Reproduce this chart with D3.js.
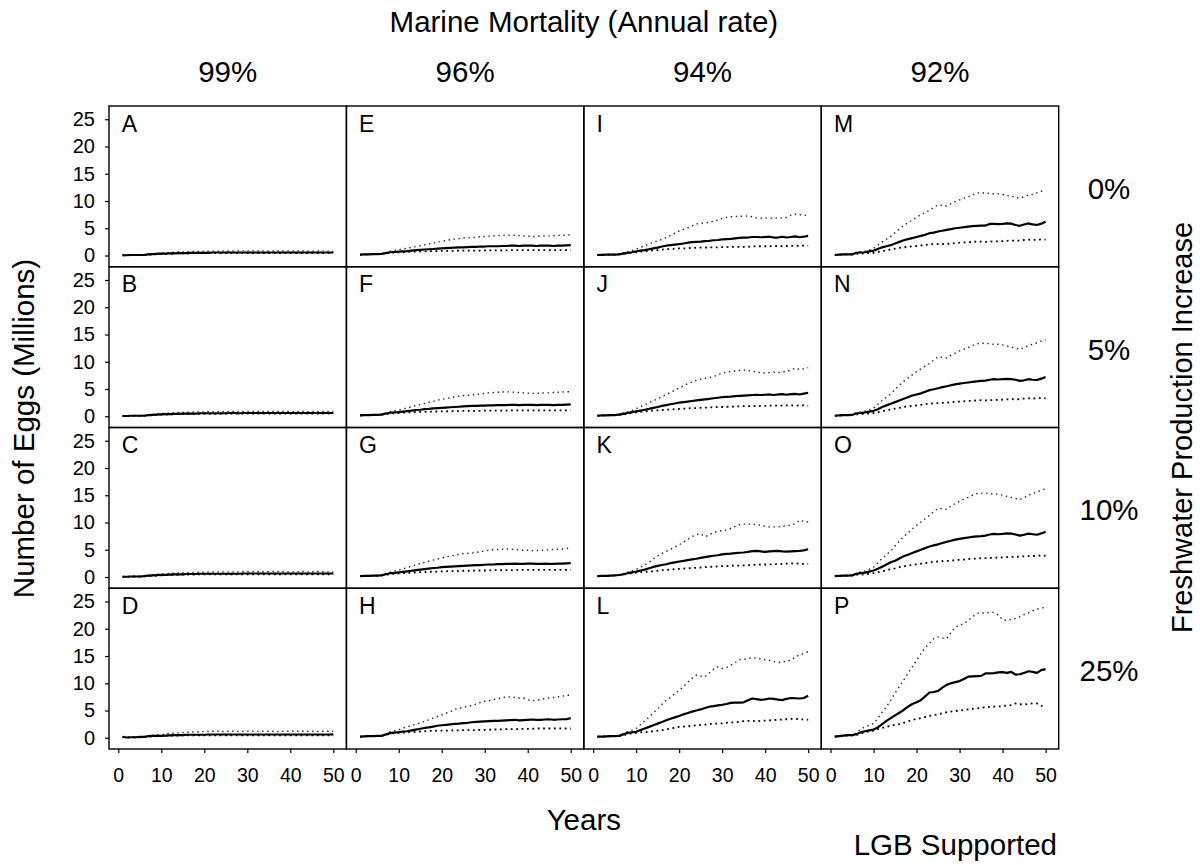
<!DOCTYPE html>
<html>
<head>
<meta charset="utf-8">
<script src="https://cdn.jsdelivr.net/npm/d3@7"></script>
<style>
  html, body { margin: 0; padding: 0; background: #fff; }
  svg { display: block; font-family: "Liberation Sans", Arial, Helvetica, sans-serif; }
</style>
</head>
<body>
<svg id="chart" width="1200" height="865"></svg>
<script>
// ---- Categories and tick labels ----
const years = [1,2,3,4,5,6,7,8,9,10,11,12,13,14,15,16,17,18,19,20,21,22,23,24,25,
               26,27,28,29,30,31,32,33,34,35,36,37,38,39,40,41,42,43,44,45,46,47,48,49,50];
const marineRates = ["99%", "96%", "94%", "92%"];          // columns
const freshIncreases = ["0%", "5%", "10%", "25%"];          // rows
const yTickValues = [0, 5, 10, 15, 20, 25];
const xTickValues = [0, 10, 20, 30, 40, 50];

// ---- Egg production (millions): median, upper and lower bounds per panel ----
// Marine mortality 99%
const medA = [0.05,0.05,0.1,0.1,0.1,0.1,0.2,0.25,0.3,0.35, 0.35,0.4,0.4,0.45,0.45,0.45,0.5,0.5,0.5,0.5,
              0.5,0.55,0.55,0.55,0.55,0.55,0.55,0.55,0.55,0.55, 0.55,0.55,0.55,0.55,0.55,0.55,0.55,0.55,0.55,0.55,
              0.55,0.55,0.55,0.55,0.55,0.55,0.55,0.55,0.55,0.55];
const hiA  = [0.05,0.05,0.1,0.1,0.1,0.15,0.25,0.3,0.4,0.45, 0.5,0.55,0.6,0.65,0.65,0.7,0.7,0.75,0.75,0.75,
              0.8,0.8,0.8,0.8,0.8,0.85,0.85,0.85,0.85,0.85, 0.85,0.85,0.85,0.85,0.85,0.85,0.85,0.85,0.85,0.85,
              0.8,0.85,0.85,0.8,0.8,0.85,0.8,0.8,0.8,0.8];
const loA  = [0.05,0.05,0.1,0.1,0.1,0.1,0.15,0.2,0.25,0.3, 0.3,0.35,0.35,0.4,0.4,0.4,0.4,0.45,0.45,0.45,
              0.45,0.45,0.45,0.45,0.45,0.45,0.45,0.45,0.45,0.45, 0.45,0.45,0.45,0.45,0.45,0.45,0.45,0.45,0.45,0.45,
              0.45,0.45,0.45,0.45,0.45,0.45,0.45,0.45,0.45,0.45];

const medB = [0.05,0.05,0.1,0.1,0.1,0.1,0.2,0.25,0.3,0.35, 0.4,0.4,0.45,0.45,0.5,0.5,0.5,0.5,0.55,0.55,
              0.55,0.55,0.55,0.55,0.55,0.6,0.6,0.55,0.6,0.6, 0.6,0.6,0.6,0.6,0.6,0.6,0.6,0.6,0.6,0.6,
              0.6,0.6,0.6,0.6,0.6,0.6,0.6,0.6,0.6,0.6];
const hiB  = [0.05,0.05,0.1,0.1,0.1,0.15,0.25,0.35,0.45,0.5, 0.55,0.6,0.65,0.7,0.7,0.75,0.75,0.8,0.8,0.8,
              0.85,0.85,0.85,0.85,0.9,0.9,0.9,0.9,0.9,0.9, 0.9,0.9,0.9,0.9,0.9,0.9,0.9,0.9,0.9,0.9,
              0.85,0.9,0.9,0.85,0.9,0.9,0.9,0.9,0.9,0.9];
const loB  = [0.05,0.05,0.1,0.1,0.1,0.1,0.15,0.2,0.25,0.3, 0.3,0.35,0.35,0.4,0.4,0.4,0.45,0.45,0.45,0.45,
              0.45,0.45,0.45,0.45,0.5,0.5,0.5,0.5,0.5,0.5, 0.5,0.5,0.5,0.5,0.5,0.5,0.5,0.5,0.5,0.5,
              0.5,0.5,0.5,0.5,0.5,0.5,0.5,0.5,0.5,0.5];

const medC = [0.05,0.05,0.1,0.1,0.1,0.15,0.25,0.3,0.35,0.4, 0.4,0.45,0.5,0.5,0.5,0.55,0.55,0.55,0.6,0.6,
              0.6,0.6,0.6,0.6,0.6,0.6,0.6,0.6,0.65,0.65, 0.65,0.65,0.65,0.65,0.65,0.65,0.65,0.65,0.65,0.65,
              0.65,0.65,0.65,0.65,0.65,0.65,0.65,0.65,0.65,0.65];
const hiC  = [0.05,0.05,0.1,0.1,0.1,0.2,0.3,0.4,0.5,0.55, 0.6,0.65,0.7,0.75,0.8,0.8,0.85,0.85,0.9,0.9,
              0.9,0.95,0.95,0.95,0.95,0.95,0.95,0.95,1.0,1.0, 1.0,1.0,1.0,0.95,1.0,1.0,1.0,1.0,1.0,0.95,
              0.95,1.0,1.0,0.95,0.95,1.0,1.0,0.95,0.95,0.95];
const loC  = [0.05,0.05,0.1,0.1,0.1,0.1,0.15,0.2,0.25,0.3, 0.35,0.35,0.4,0.4,0.45,0.45,0.45,0.45,0.5,0.5,
              0.5,0.5,0.5,0.5,0.5,0.5,0.5,0.5,0.5,0.5, 0.5,0.5,0.5,0.5,0.5,0.5,0.5,0.5,0.5,0.5,
              0.5,0.5,0.5,0.5,0.5,0.5,0.5,0.5,0.5,0.5];

const medD = [0.15,0.05,0.1,0.1,0.15,0.15,0.3,0.35,0.35,0.35, 0.4,0.45,0.5,0.5,0.5,0.55,0.55,0.55,0.55,0.55,
              0.6,0.6,0.6,0.6,0.6,0.6,0.6,0.6,0.6,0.6, 0.6,0.6,0.6,0.6,0.6,0.6,0.6,0.6,0.6,0.6,
              0.6,0.6,0.6,0.6,0.6,0.6,0.6,0.6,0.6,0.62];
const hiD  = [0.15,0.05,0.1,0.1,0.15,0.2,0.35,0.45,0.55,0.6, 0.7,0.8,0.85,0.9,0.95,1.0,1.05,1.1,1.1,1.15,
              1.15,1.2,1.2,1.15,1.15,1.2,1.2,1.15,1.2,1.2, 1.2,1.15,1.2,1.2,1.2,1.2,1.15,1.2,1.2,1.2,
              1.2,1.2,1.2,1.2,1.2,1.15,1.2,1.2,1.2,1.2];
const loD  = [0.15,0.05,0.1,0.1,0.1,0.1,0.2,0.25,0.3,0.3, 0.35,0.4,0.4,0.4,0.45,0.45,0.45,0.45,0.45,0.45,
              0.45,0.45,0.45,0.45,0.45,0.45,0.45,0.45,0.45,0.45, 0.45,0.45,0.45,0.45,0.45,0.45,0.45,0.45,0.45,0.45,
              0.45,0.45,0.45,0.45,0.45,0.45,0.45,0.45,0.45,0.45];

// Marine mortality 96%
const medE = [0.15,0.2,0.2,0.25,0.25,0.3,0.45,0.6,0.65,0.7, 0.75,0.8,0.9,1.0,1.05,1.1,1.15,1.2,1.25,1.3,
              1.35,1.4,1.45,1.5,1.5,1.55,1.6,1.6,1.65,1.65, 1.7,1.7,1.7,1.75,1.75,1.8,1.8,1.75,1.8,1.8,
              1.8,1.75,1.8,1.8,1.8,1.75,1.8,1.8,1.85,1.9];
const hiE  = [0.15,0.2,0.2,0.25,0.3,0.35,0.55,0.8,0.95,1.05, 1.2,1.35,1.5,1.65,1.8,1.95,2.1,2.3,2.45,2.6,
              2.75,2.9,3.0,3.1,3.2,3.25,3.3,3.35,3.45,3.5, 3.55,3.6,3.65,3.7,3.7,3.75,3.7,3.65,3.6,3.55,
              3.5,3.5,3.55,3.6,3.6,3.65,3.7,3.7,3.75,3.8];
const loE  = [0.15,0.2,0.2,0.25,0.25,0.3,0.4,0.5,0.55,0.6, 0.6,0.65,0.7,0.7,0.75,0.75,0.8,0.8,0.8,0.85,
              0.85,0.85,0.85,0.9,0.9,0.9,0.9,0.9,0.9,0.95, 0.95,0.95,0.95,0.95,0.95,1.0,1.0,1.0,1.0,1.0,
              1.0,1.0,1.0,1.0,1.0,1.0,1.0,1.0,1.0,1.0];

const medF = [0.15,0.2,0.2,0.25,0.25,0.3,0.5,0.65,0.7,0.75, 0.85,0.95,1.05,1.15,1.2,1.3,1.35,1.45,1.5,1.55,
              1.6,1.65,1.7,1.75,1.8,1.85,1.9,1.9,1.95,1.95, 2.0,2.0,2.05,2.05,2.05,2.1,2.1,2.05,2.1,2.1,
              2.1,2.05,2.1,2.1,2.1,2.05,2.1,2.1,2.15,2.2];
const hiF  = [0.15,0.2,0.2,0.25,0.3,0.4,0.6,0.85,1.0,1.15, 1.35,1.55,1.75,1.95,2.15,2.35,2.55,2.75,2.95,3.1,
              3.25,3.4,3.55,3.7,3.8,3.85,3.9,4.0,4.1,4.2, 4.3,4.35,4.4,4.45,4.5,4.45,4.4,4.35,4.3,4.25,
              4.2,4.2,4.25,4.3,4.3,4.35,4.4,4.45,4.5,4.5];
const loF  = [0.15,0.2,0.2,0.25,0.25,0.3,0.4,0.5,0.55,0.6, 0.65,0.7,0.75,0.75,0.8,0.8,0.85,0.85,0.9,0.9,
              0.9,0.95,0.95,0.95,1.0,1.0,1.0,1.0,1.0,1.05, 1.05,1.05,1.05,1.05,1.05,1.1,1.1,1.1,1.1,1.1,
              1.1,1.1,1.1,1.1,1.1,1.1,1.1,1.1,1.1,1.1];

const medG = [0.15,0.2,0.2,0.25,0.25,0.3,0.5,0.7,0.75,0.85, 0.95,1.05,1.15,1.25,1.35,1.45,1.55,1.65,1.7,1.8,
              1.85,1.9,1.95,2.0,2.05,2.1,2.15,2.2,2.2,2.25, 2.3,2.3,2.35,2.35,2.4,2.4,2.45,2.4,2.4,2.45,
              2.45,2.4,2.4,2.45,2.4,2.4,2.45,2.45,2.5,2.55];
const hiG  = [0.15,0.2,0.2,0.25,0.3,0.4,0.65,0.9,1.1,1.3, 1.5,1.75,2.0,2.25,2.45,2.7,2.9,3.1,3.3,3.5,
              3.7,3.85,4.0,4.15,4.3,4.35,4.4,4.5,4.65,4.8, 4.9,5.0,5.05,5.1,5.15,5.1,5.05,4.95,4.9,4.9,
              4.85,4.85,4.9,4.95,5.0,5.05,5.1,5.15,5.25,5.3];
const loG  = [0.15,0.2,0.2,0.25,0.25,0.3,0.4,0.55,0.6,0.65, 0.7,0.75,0.8,0.85,0.9,0.9,0.95,1.0,1.0,1.05,
              1.05,1.1,1.1,1.1,1.15,1.15,1.15,1.2,1.2,1.2, 1.2,1.25,1.25,1.25,1.25,1.25,1.3,1.3,1.3,1.3,
              1.3,1.3,1.3,1.3,1.3,1.3,1.3,1.3,1.3,1.3];

const medH = [0.2,0.25,0.3,0.3,0.35,0.35,0.6,0.85,0.95,1.05, 1.15,1.2,1.35,1.5,1.65,1.8,1.9,2.05,2.2,2.3,
              2.35,2.45,2.55,2.6,2.7,2.75,2.85,2.9,2.95,3.0, 3.05,3.1,3.1,3.15,3.2,3.25,3.3,3.2,3.25,3.3,
              3.35,3.3,3.3,3.35,3.4,3.3,3.35,3.4,3.4,3.6];
const hiH  = [0.2,0.25,0.3,0.3,0.35,0.4,0.7,1.1,1.3,1.5, 1.8,2.0,2.2,2.5,2.7,3.0,3.3,3.6,3.9,4.2,
              4.5,4.8,5.2,5.4,5.6,5.8,5.9,6.2,6.5,6.7, 6.8,7.0,7.2,7.3,7.5,7.5,7.4,7.3,7.3,7.0,
              6.8,6.9,7.0,7.2,7.3,7.4,7.5,7.6,7.8,7.8];
const loH  = [0.2,0.25,0.3,0.3,0.35,0.35,0.55,0.75,0.85,0.9, 0.95,1.0,1.05,1.1,1.15,1.2,1.25,1.25,1.3,1.3,
              1.3,1.35,1.35,1.35,1.4,1.4,1.4,1.4,1.45,1.45, 1.5,1.5,1.55,1.55,1.6,1.6,1.6,1.6,1.65,1.65,
              1.65,1.7,1.7,1.7,1.7,1.7,1.75,1.7,1.7,1.7];

// Marine mortality 94%
const medI = [0.1,0.12,0.15,0.15,0.15,0.2,0.35,0.5,0.6,0.75, 0.9,1.0,1.15,1.3,1.45,1.65,1.8,1.9,2.0,2.1,
              2.2,2.35,2.45,2.5,2.55,2.65,2.7,2.8,2.85,2.95, 3.0,3.05,3.15,3.25,3.3,3.3,3.4,3.4,3.35,3.4,
              3.45,3.3,3.3,3.45,3.3,3.4,3.5,3.35,3.45,3.6];
const hiI  = [0.1,0.12,0.15,0.15,0.2,0.35,0.5,0.7,0.9,1.2, 1.5,1.8,2.1,2.4,2.7,2.95,3.3,3.7,4.1,4.5,
              4.8,5.1,5.4,5.8,5.9,6.0,6.1,6.3,6.5,6.8, 7.0,7.1,7.15,7.2,7.2,7.25,7.1,6.9,6.85,6.9,
              6.8,6.85,6.9,6.9,7.0,7.4,7.6,7.5,7.35,7.4];
const loI  = [0.1,0.12,0.15,0.15,0.15,0.2,0.3,0.45,0.5,0.6, 0.7,0.8,0.9,0.95,1.0,1.1,1.15,1.2,1.25,1.3,
              1.3,1.35,1.4,1.4,1.45,1.45,1.5,1.5,1.5,1.55, 1.55,1.6,1.6,1.6,1.6,1.65,1.65,1.7,1.7,1.7,
              1.7,1.75,1.75,1.7,1.75,1.8,1.75,1.8,1.8,1.8];

const medJ = [0.1,0.15,0.15,0.2,0.2,0.3,0.45,0.6,0.75,0.9, 1.05,1.2,1.35,1.55,1.7,1.9,2.05,2.2,2.35,2.5,
              2.6,2.7,2.8,2.9,3.0,3.1,3.2,3.3,3.4,3.5, 3.55,3.6,3.7,3.75,3.8,3.85,3.9,3.95,3.9,3.95,
              4.0,3.9,4.0,4.05,3.95,4.05,4.1,4.0,4.15,4.3];
const hiJ  = [0.1,0.15,0.15,0.2,0.25,0.4,0.6,0.8,1.05,1.4, 1.75,2.1,2.5,2.85,3.2,3.6,4.0,4.4,4.8,5.2,
              5.6,6.0,6.3,6.6,6.8,7.0,7.1,7.3,7.6,7.9, 8.1,8.2,8.3,8.4,8.5,8.4,8.3,8.1,8.0,7.9,
              8.0,8.1,8.0,8.1,8.2,8.5,8.8,8.6,8.7,8.9];
const loJ  = [0.1,0.15,0.15,0.2,0.2,0.25,0.35,0.5,0.6,0.7, 0.8,0.9,1.0,1.05,1.1,1.15,1.2,1.25,1.3,1.35,
              1.4,1.45,1.5,1.5,1.55,1.6,1.6,1.65,1.7,1.7, 1.75,1.75,1.8,1.8,1.85,1.85,1.85,1.9,1.9,1.9,
              1.95,1.95,1.95,1.95,2.0,2.0,1.95,2.0,2.0,1.95];

const medK = [0.15,0.2,0.2,0.25,0.3,0.37,0.5,0.7,0.85,1.0, 1.2,1.35,1.6,1.85,2.05,2.2,2.35,2.55,2.7,2.85,
              2.95,3.1,3.25,3.35,3.5,3.65,3.8,3.9,4.0,4.15, 4.25,4.3,4.4,4.45,4.5,4.6,4.75,4.8,4.7,4.6,
              4.7,4.75,4.8,4.7,4.65,4.7,4.75,4.8,4.9,5.1];
const hiK  = [0.15,0.2,0.2,0.25,0.3,0.4,0.6,0.9,1.1,1.4, 1.8,2.2,2.7,3.3,3.9,4.3,4.7,5.1,5.5,5.9,
              6.4,6.9,7.4,7.8,7.9,7.4,7.7,8.2,8.4,8.5, 8.6,8.9,9.3,9.6,9.7,9.7,9.7,9.6,9.5,9.3,
              9.2,9.2,9.2,9.3,9.4,9.5,9.8,10.4,10.2,10.1];
const loK  = [0.15,0.2,0.2,0.25,0.3,0.35,0.45,0.6,0.7,0.8, 0.9,0.95,1.0,1.05,1.15,1.25,1.3,1.35,1.45,1.5,
              1.55,1.6,1.65,1.7,1.75,1.8,1.85,1.9,1.95,2.0, 2.0,2.05,2.1,2.1,2.15,2.2,2.2,2.25,2.3,2.3,
              2.3,2.35,2.35,2.4,2.45,2.5,2.5,2.45,2.4,2.4];

const medL = [0.2,0.2,0.25,0.3,0.3,0.35,0.6,0.9,1.0,1.1, 1.4,1.7,2.0,2.3,2.6,2.9,3.2,3.5,3.75,4.0,
              4.3,4.55,4.8,5.0,5.2,5.45,5.7,5.8,5.95,6.05, 6.2,6.4,6.45,6.45,6.5,6.9,7.2,7.1,6.95,7.05,
              7.2,7.15,7.0,6.9,7.15,7.3,7.25,7.2,7.3,7.7];
const hiL  = [0.2,0.2,0.25,0.3,0.3,0.4,0.8,1.1,1.4,1.7, 2.4,3.1,3.8,4.6,5.3,6.1,6.9,7.4,8.1,8.7,
              9.4,10.2,10.9,11.5,11.3,11.2,11.9,12.6,13.0,12.7, 12.9,13.3,13.8,14.3,14.4,14.5,14.7,14.6,14.5,14.3,
              14.2,14.0,13.8,13.9,14.0,14.3,14.8,15.2,15.5,15.8];
const loL  = [0.2,0.2,0.25,0.3,0.3,0.35,0.5,0.65,0.8,0.9, 1.0,1.05,1.1,1.2,1.3,1.4,1.55,1.7,1.85,2.0,
              2.05,2.1,2.2,2.3,2.35,2.4,2.5,2.6,2.6,2.65, 2.75,2.8,2.85,2.95,3.05,3.1,3.1,3.05,3.1,3.15,
              3.2,3.25,3.3,3.35,3.4,3.45,3.5,3.4,3.35,3.3];

// Marine mortality 92%
const medM = [0.1,0.15,0.2,0.2,0.2,0.5,0.55,0.6,0.75,0.9, 1.2,1.5,1.7,1.9,2.2,2.5,2.8,3.0,3.2,3.4,
              3.6,3.8,4.1,4.2,4.4,4.55,4.7,4.85,5.0,5.1, 5.2,5.3,5.4,5.45,5.5,5.5,5.8,5.8,5.75,5.8,
              5.9,5.85,5.6,5.45,5.7,5.9,5.7,5.6,5.85,6.2];
const hiM  = [0.1,0.15,0.2,0.2,0.25,0.55,0.7,0.8,1.0,1.3, 1.9,2.5,3.0,3.5,4.2,4.9,5.5,6.0,6.5,7.0,
              7.5,7.9,8.3,8.8,9.3,9.2,9.1,9.5,9.9,10.2, 10.5,10.8,11.1,11.5,11.5,11.45,11.4,11.3,11.3,11.2,
              11.0,10.9,10.7,10.5,10.8,11.1,11.2,11.5,11.8,12.0];
const loM  = [0.1,0.15,0.2,0.2,0.2,0.3,0.35,0.4,0.45,0.5, 0.65,0.8,0.95,1.1,1.25,1.4,1.5,1.6,1.7,1.75,
              1.85,1.95,2.05,2.1,2.1,2.1,2.15,2.2,2.3,2.35, 2.4,2.45,2.5,2.55,2.55,2.5,2.55,2.6,2.6,2.65,
              2.7,2.75,2.7,2.75,2.85,2.9,2.85,2.9,2.95,2.9];

const medN = [0.1,0.15,0.2,0.2,0.25,0.55,0.6,0.7,0.85,1.0, 1.3,1.7,2.0,2.3,2.6,2.9,3.2,3.5,3.8,4.0,
              4.2,4.5,4.8,4.95,5.15,5.35,5.5,5.7,5.85,6.0, 6.1,6.2,6.3,6.4,6.5,6.55,6.7,6.8,6.75,6.8,
              6.85,6.8,6.7,6.5,6.6,6.8,6.7,6.65,6.9,7.2];
const hiN  = [0.1,0.15,0.2,0.2,0.3,0.6,0.8,0.95,1.2,1.5, 2.2,2.9,3.5,4.1,4.9,5.7,6.4,7.0,7.6,8.2,
              8.7,9.2,9.7,10.3,10.9,10.8,10.7,11.2,11.6,12.0, 12.3,12.6,13.0,13.3,13.4,13.4,13.3,13.2,13.2,13.1,
              12.9,12.7,12.5,12.3,12.6,13.0,13.2,13.5,13.8,14.0];
const loN  = [0.1,0.15,0.2,0.2,0.25,0.35,0.4,0.45,0.5,0.6, 0.75,0.9,1.1,1.25,1.4,1.55,1.7,1.8,1.9,2.0,
              2.1,2.2,2.3,2.4,2.4,2.45,2.5,2.55,2.65,2.7, 2.75,2.8,2.85,2.9,2.95,2.9,2.95,3.0,3.0,3.05,
              3.1,3.15,3.1,3.15,3.25,3.3,3.25,3.3,3.35,3.3];

const medO = [0.15,0.2,0.25,0.25,0.3,0.6,0.7,0.8,1.0,1.2, 1.5,1.9,2.3,2.7,3.0,3.4,3.8,4.1,4.4,4.7,
              5.0,5.3,5.6,5.8,6.0,6.25,6.45,6.65,6.85,7.0, 7.15,7.25,7.35,7.45,7.5,7.6,7.8,7.9,7.85,7.9,
              8.0,7.95,7.8,7.6,7.75,7.95,7.85,7.75,8.0,8.3];
const hiO  = [0.15,0.2,0.25,0.25,0.35,0.7,0.95,1.1,1.4,1.8, 2.6,3.4,4.1,4.8,5.7,6.6,7.4,8.1,8.8,9.5,
              10.1,10.7,11.3,12.0,12.6,12.5,12.4,13.0,13.5,13.9, 14.3,14.6,15.0,15.3,15.4,15.4,15.3,15.2,15.2,15.0,
              14.8,14.6,14.4,14.2,14.5,15.0,15.3,15.6,15.9,16.2];
const loO  = [0.15,0.2,0.25,0.25,0.3,0.4,0.45,0.5,0.6,0.7, 0.85,1.05,1.25,1.45,1.6,1.8,1.95,2.1,2.2,2.35,
              2.45,2.55,2.65,2.8,2.85,2.9,2.95,3.0,3.1,3.15, 3.2,3.3,3.35,3.4,3.45,3.45,3.5,3.55,3.55,3.6,
              3.65,3.7,3.7,3.75,3.8,3.85,3.85,3.9,3.95,3.9];

const medP = [0.2,0.3,0.4,0.5,0.5,0.65,1.0,1.2,1.35,1.5, 1.9,2.5,3.1,3.6,4.1,4.6,5.1,5.7,6.2,6.5,
              6.9,7.6,8.3,8.4,8.6,9.2,9.7,10.0,10.2,10.4, 10.8,11.2,11.25,11.3,11.35,11.8,11.8,11.85,12.0,12.05,
              11.9,12.1,11.6,11.65,11.9,12.2,12.1,11.9,12.4,12.6];
const hiP  = [0.2,0.3,0.4,0.5,0.6,0.9,1.6,2.0,2.3,2.6, 3.6,4.7,5.7,6.9,8.2,9.4,10.6,11.8,13.0,14.2,
              15.4,16.5,17.3,18.2,18.5,18.3,18.2,19.3,20.3,20.6, 21.0,21.5,22.2,22.8,22.9,22.9,23.0,23.0,22.5,21.7,
              21.5,21.7,21.9,22.2,22.6,22.9,23.3,23.6,23.8,23.9];
const loP  = [0.2,0.3,0.35,0.4,0.45,0.5,0.8,1.0,1.15,1.3, 1.6,1.8,2.0,2.2,2.4,2.5,2.75,3.0,3.3,3.45,
              3.6,3.8,4.0,4.15,4.3,4.5,4.7,4.8,4.9,5.0, 5.1,5.2,5.3,5.4,5.5,5.6,5.65,5.7,5.75,5.8,
              5.9,6.0,6.3,6.15,6.1,6.2,6.3,6.3,5.85,6.0];

// Panels in column order (marine mortality) then row order (freshwater increase)
const panels = [
  { letter: "A", col: 0, row: 0, median: medA, upper: hiA, lower: loA },
  { letter: "B", col: 0, row: 1, median: medB, upper: hiB, lower: loB },
  { letter: "C", col: 0, row: 2, median: medC, upper: hiC, lower: loC },
  { letter: "D", col: 0, row: 3, median: medD, upper: hiD, lower: loD },
  { letter: "E", col: 1, row: 0, median: medE, upper: hiE, lower: loE },
  { letter: "F", col: 1, row: 1, median: medF, upper: hiF, lower: loF },
  { letter: "G", col: 1, row: 2, median: medG, upper: hiG, lower: loG },
  { letter: "H", col: 1, row: 3, median: medH, upper: hiH, lower: loH },
  { letter: "I", col: 2, row: 0, median: medI, upper: hiI, lower: loI },
  { letter: "J", col: 2, row: 1, median: medJ, upper: hiJ, lower: loJ },
  { letter: "K", col: 2, row: 2, median: medK, upper: hiK, lower: loK },
  { letter: "L", col: 2, row: 3, median: medL, upper: hiL, lower: loL },
  { letter: "M", col: 3, row: 0, median: medM, upper: hiM, lower: loM },
  { letter: "N", col: 3, row: 1, median: medN, upper: hiN, lower: loN },
  { letter: "O", col: 3, row: 2, median: medO, upper: hiO, lower: loO },
  { letter: "P", col: 3, row: 3, median: medP, upper: hiP, lower: loP }
];

// ---- Layout ----
const gridLeft = 109, gridTop = 106, gridRight = 1058.7, gridBottom = 749;
const pw = (gridRight - gridLeft) / 4;
const ph = (gridBottom - gridTop) / 4;
const gridCX = (gridLeft + gridRight) / 2;
const gridCY = (gridTop + gridBottom) / 2;

const x = d3.scaleLinear().domain([-2.16, 53.05]).range([0, pw]);
const y = d3.scaleLinear().domain([-2.06, 27.43]).range([ph, 0]);

const svg = d3.select("#chart");
svg.append("rect").attr("width", 1200).attr("height", 865).attr("fill", "#fff");

const line = d3.line()
  .x((d, i) => x(years[i]))
  .y(d => y(d));

const panelG = svg.selectAll("g.panel")
  .data(panels)
  .join("g")
  .attr("class", "panel")
  .attr("transform", d => `translate(${gridLeft + d.col * pw},${gridTop + d.row * ph})`);

// bounds (dotted) then median (solid)
panelG.append("path")
  .attr("d", d => line(d.lower))
  .attr("fill", "none").attr("stroke", "#000")
  .attr("stroke-width", 1.8).attr("stroke-dasharray", "1.8,3.6");
panelG.append("path")
  .attr("d", d => line(d.upper))
  .attr("fill", "none").attr("stroke", "#222")
  .attr("stroke-width", 1.4).attr("stroke-dasharray", "1.4,3.6");
panelG.append("path")
  .attr("d", d => line(d.median))
  .attr("fill", "none").attr("stroke", "#000")
  .attr("stroke-width", 2.2).attr("stroke-linejoin", "round");

// panel frames
panelG.append("rect")
  .attr("width", pw).attr("height", ph)
  .attr("fill", "none").attr("stroke", "#000").attr("stroke-width", 1.4);

// panel letters
panelG.append("text")
  .attr("x", 12.7).attr("y", 25.7)
  .attr("font-size", 23).attr("fill", "#000")
  .text(d => d.letter);

// y axes on the first column
panelG.filter(d => d.col === 0).each(function () {
  const ax = d3.select(this).append("g")
    .call(d3.axisLeft(y).tickValues(yTickValues).tickSize(4).tickPadding(10).tickFormat(d3.format("d")));
  ax.select(".domain").remove();
  ax.selectAll(".tick line").attr("stroke", "#000").attr("stroke-width", 1.2);
  ax.selectAll(".tick text").attr("font-size", 20).attr("fill", "#000")
    .attr("font-family", "'Liberation Sans', Arial, sans-serif");
});

// x axes on the bottom row
panelG.filter(d => d.row === 3).each(function () {
  const ax = d3.select(this).append("g")
    .attr("transform", `translate(0,${ph})`)
    .call(d3.axisBottom(x).tickValues(xTickValues).tickSize(4).tickPadding(15).tickFormat(d3.format("d")));
  ax.select(".domain").remove();
  ax.selectAll(".tick line").attr("stroke", "#000").attr("stroke-width", 1.2);
  ax.selectAll(".tick text").attr("font-size", 19.5).attr("fill", "#000")
    .attr("font-family", "'Liberation Sans', Arial, sans-serif");
});

// ---- Titles ----
const titleSize = 29.5;
svg.append("text")
  .attr("x", gridCX).attr("y", 32)
  .attr("text-anchor", "middle").attr("font-size", titleSize)
  .text("Marine Mortality (Annual rate)");

svg.selectAll("text.colhead")
  .data(marineRates)
  .join("text")
  .attr("class", "colhead")
  .attr("x", (d, i) => gridLeft + (i + 0.5) * pw)
  .attr("y", 82)
  .attr("text-anchor", "middle").attr("font-size", titleSize)
  .text(d => d);

svg.selectAll("text.rowhead")
  .data(freshIncreases)
  .join("text")
  .attr("class", "rowhead")
  .attr("x", 1109)
  .attr("y", (d, i) => gridTop + (i + 0.5) * ph + 12.5)
  .attr("text-anchor", "middle").attr("font-size", titleSize)
  .text(d => d);

// right-hand row title, kept inside the canvas edge
svg.append("text")
  .attr("transform", `translate(1192,${gridCY}) rotate(-90)`)
  .attr("text-anchor", "middle").attr("font-size", 29)
  .text("Freshwater Production Increase");

svg.append("text")
  .attr("transform", `translate(33.5,${gridCY + 1}) rotate(-90)`)
  .attr("text-anchor", "middle").attr("font-size", titleSize)
  .text("Number of Eggs (Millions)");

svg.append("text")
  .attr("x", gridCX).attr("y", 830)
  .attr("text-anchor", "middle").attr("font-size", titleSize)
  .text("Years");

svg.append("text")
  .attr("x", 1057).attr("y", 855)
  .attr("text-anchor", "end").attr("font-size", titleSize)
  .text("LGB Supported");
</script>
</body>
</html>
